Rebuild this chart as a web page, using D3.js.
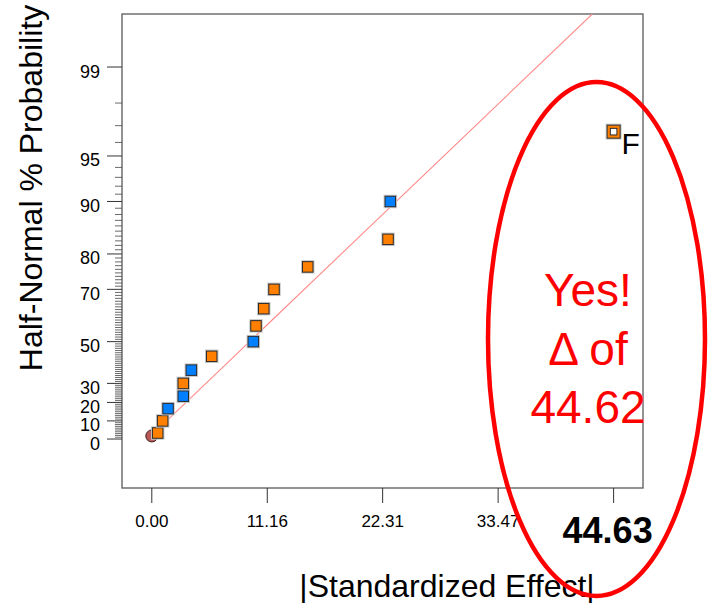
<!DOCTYPE html>
<html>
<head>
<meta charset="utf-8">
<script src="https://cdn.jsdelivr.net/npm/d3@7"></script>
<style>
  html, body { margin: 0; padding: 0; background: #fff; }
  svg { display: block; font-family: Arial, "Liberation Sans", Helvetica, sans-serif; }
</style>
</head>
<body>
<svg id="chart" width="709" height="603"></svg>
<script>
// |Standardized effect| of each term, in rank order
const effects = [0.57, 1.05, 1.57, 3.04, 3.04, 3.82, 5.79, 9.81, 10.07, 10.82, 11.81, 15.07, 22.83, 23.05, 44.63];
// Half-normal % probability of each ranked effect
const probs = [3.33, 10.00, 16.67, 23.33, 30.00, 36.67, 43.33, 50.00, 56.67, 63.33, 70.00, 76.67, 83.33, 90.00, 96.67];
// Sign of each effect: "+" positive (orange), "-" negative (blue)
const signs = ["+", "+", "-", "-", "+", "-", "+", "-", "+", "+", "+", "+", "+", "-", "+"];
// Term labels (only the significant term is named)
const termLabels = ["", "", "", "", "", "", "", "", "", "", "", "", "", "", "F"];
// Error estimate point
const errorEffects = [0.00];
const errorProbs = [1.7];
// Fitted reference line endpoints [effect, % probability]
const lineEffects = [0.00, 42.57];
const lineProbs = [2.2, 99.675];

// Axis ticks
const xTickValues = [0, 11.16, 22.31, 33.47, 44.63];
const xTickLabels = ["0.00", "11.16", "22.31", "33.47", "44.63"];
const yMajorTicks = [0, 10, 20, 30, 50, 70, 80, 90, 95, 99];
const yMinorTicks = d3.range(1, 99).filter(p => !yMajorTicks.includes(p));

// Inverse standard normal CDF (Acklam's rational approximation)
function qnorm(p) {
  const a = [-3.969683028665376e+01, 2.209460984245205e+02, -2.759285104469687e+02, 1.383577518672690e+02, -3.066479806614716e+01, 2.506628277459239e+00];
  const b = [-5.447609879822406e+01, 1.615858368580409e+02, -1.556989798598866e+02, 6.680131188771972e+01, -1.328068155288572e+01];
  const c = [-7.784894002430293e-03, -3.223964580411365e-01, -2.400758277161838e+00, -2.549732539343734e+00, 4.374664141464968e+00, 2.938163982698783e+00];
  const d = [7.784695709041462e-03, 3.224671290700398e-01, 2.445134137142996e+00, 3.754408661907416e+00];
  const pl = 0.02425, ph = 1 - pl;
  let q, r;
  if (p < pl) {
    q = Math.sqrt(-2 * Math.log(p));
    return (((((c[0]*q+c[1])*q+c[2])*q+c[3])*q+c[4])*q+c[5]) / ((((d[0]*q+d[1])*q+d[2])*q+d[3])*q+1);
  } else if (p <= ph) {
    q = p - 0.5; r = q * q;
    return (((((a[0]*r+a[1])*r+a[2])*r+a[3])*r+a[4])*r+a[5])*q / (((((b[0]*r+b[1])*r+b[2])*r+b[3])*r+b[4])*r+1);
  } else {
    q = Math.sqrt(-2 * Math.log(1 - p));
    return -(((((c[0]*q+c[1])*q+c[2])*q+c[3])*q+c[4])*q+c[5]) / ((((d[0]*q+d[1])*q+d[2])*q+d[3])*q+1);
  }
}
// Half-normal quantile for a % probability
const halfZ = pct => pct <= 0 ? 0 : qnorm(0.5 + pct / 200);

const svg = d3.select("#chart");
const plot = { left: 122, right: 643, top: 14, bottom: 488 };

const x = d3.scaleLinear().domain([-2.88, 47.47]).range([plot.left, plot.right]);
const zScale = d3.scaleLinear().domain([-0.339, 2.943]).range([plot.bottom, plot.top]);
const y = pct => zScale(halfZ(pct));

// Plot frame
svg.append("rect")
  .attr("x", plot.left).attr("y", plot.top)
  .attr("width", plot.right - plot.left).attr("height", plot.bottom - plot.top)
  .attr("fill", "none").attr("stroke", "#5a5a5a").attr("stroke-width", 1.3);

// X axis ticks and labels
const xAxis = svg.append("g").attr("class", "x-axis");
const last = xTickValues.length - 1;
xAxis.selectAll("line").data(xTickValues).join("line")
  .attr("x1", d => x(d)).attr("x2", d => x(d))
  .attr("y1", plot.bottom).attr("y2", plot.bottom + 15)
  .attr("stroke", "#333").attr("stroke-width", 1);
xAxis.selectAll("text").data(xTickValues).join("text")
  .attr("x", (d, i) => i === last ? x(d) - 6 : x(d))
  .attr("y", (d, i) => i === last ? 543 : 527)
  .attr("text-anchor", "middle")
  .attr("font-size", (d, i) => i === last ? 36 : 17)
  .attr("font-weight", (d, i) => i === last ? "bold" : "normal")
  .attr("fill", "#000")
  .text((d, i) => xTickLabels[i]);

// Y axis: minor ticks at every percent, major ticks with labels
const yAxis = svg.append("g").attr("class", "y-axis");
yAxis.selectAll("line.minor").data(yMinorTicks).join("line")
  .attr("class", "minor")
  .attr("x1", plot.left - 7).attr("x2", plot.left)
  .attr("y1", d => y(d)).attr("y2", d => y(d))
  .attr("stroke", "#444").attr("stroke-width", 0.8);
yAxis.selectAll("line.major").data(yMajorTicks).join("line")
  .attr("class", "major")
  .attr("x1", plot.left - 15).attr("x2", plot.left)
  .attr("y1", d => y(d)).attr("y2", d => y(d))
  .attr("stroke", "#333").attr("stroke-width", 1);
yAxis.selectAll("text").data(yMajorTicks).join("text")
  .attr("x", 100).attr("y", d => y(d) + 10.5)
  .attr("text-anchor", "end").attr("font-size", 18).attr("fill", "#000")
  .text(d => d);

// Axis titles
svg.append("text")
  .attr("transform", "translate(42,188) rotate(-90)")
  .attr("text-anchor", "middle").attr("font-size", 32).attr("fill", "#000")
  .text("Half-Normal % Probability");
svg.append("text")
  .attr("x", 447).attr("y", 597)
  .attr("text-anchor", "middle").attr("font-size", 32).attr("fill", "#000")
  .text("|Standardized Effect|");

// Reference line, clipped to the plot area
svg.append("clipPath").attr("id", "plot-clip")
  .append("rect").attr("x", plot.left).attr("y", plot.top)
  .attr("width", plot.right - plot.left).attr("height", plot.bottom - plot.top);
const refLine = d3.line().x(d => x(d[0])).y(d => y(d[1]));
svg.append("path")
  .datum(lineEffects.map((e, i) => [e, lineProbs[i]]))
  .attr("clip-path", "url(#plot-clip)")
  .attr("d", refLine)
  .attr("fill", "none").attr("stroke", "#ff8a8a").attr("stroke-width", 1.1);

// Error estimate marker
svg.append("g").selectAll("circle").data(errorEffects).join("circle")
  .attr("cx", d => x(d)).attr("cy", (d, i) => y(errorProbs[i]))
  .attr("r", 6)
  .attr("fill", "#b95656").attr("stroke", "#3a2020").attr("stroke-width", 1);

// Effect markers
const pts = effects.map((e, i) => ({ e, p: probs[i], s: signs[i], label: termLabels[i] }));
const color = s => s === "+" ? "#ff8000" : "#0080ff";
const marks = svg.append("g").selectAll("g").data(pts).join("g")
  .attr("transform", d => `translate(${x(d.e)},${y(d.p)})`);
marks.each(function (d) {
  const g = d3.select(this);
  const size = d.label ? 13 : 10.5;
  g.append("rect")
    .attr("x", -size / 2).attr("y", -size / 2).attr("width", size).attr("height", size)
    .attr("fill", "none").attr("stroke", "#c8c8c8").attr("stroke-width", 3);
  g.append("rect")
    .attr("x", -size / 2).attr("y", -size / 2).attr("width", size).attr("height", size)
    .attr("fill", color(d.s)).attr("stroke", "#2a2a2a").attr("stroke-width", 1);
  if (d.label) {
    g.append("rect")
      .attr("x", -3.3).attr("y", -3.3).attr("width", 6.6).attr("height", 6.6)
      .attr("fill", "#fff").attr("stroke", "#2a2a2a").attr("stroke-width", 1);
    g.append("text")
      .attr("x", 8).attr("y", 22.5)
      .attr("font-size", 30).attr("fill", "#000")
      .text(d.label);
  }
});

// Annotation around the largest effect
const note = svg.append("g").attr("class", "annotation");
note.append("ellipse")
  .attr("cx", 596.5).attr("cy", 339).attr("rx", 108.5).attr("ry", 257)
  .attr("fill", "none").attr("stroke", "#ff0000").attr("stroke-width", 4.5);
const noteLines = ["Yes!", "\u0394 of", "44.62"];
note.selectAll("text").data(noteLines).join("text")
  .attr("x", 588).attr("y", (d, i) => 306 + i * 58.5)
  .attr("text-anchor", "middle").attr("font-size", 46).attr("fill", "#ff0000")
  .text(d => d);
</script>
</body>
</html>
